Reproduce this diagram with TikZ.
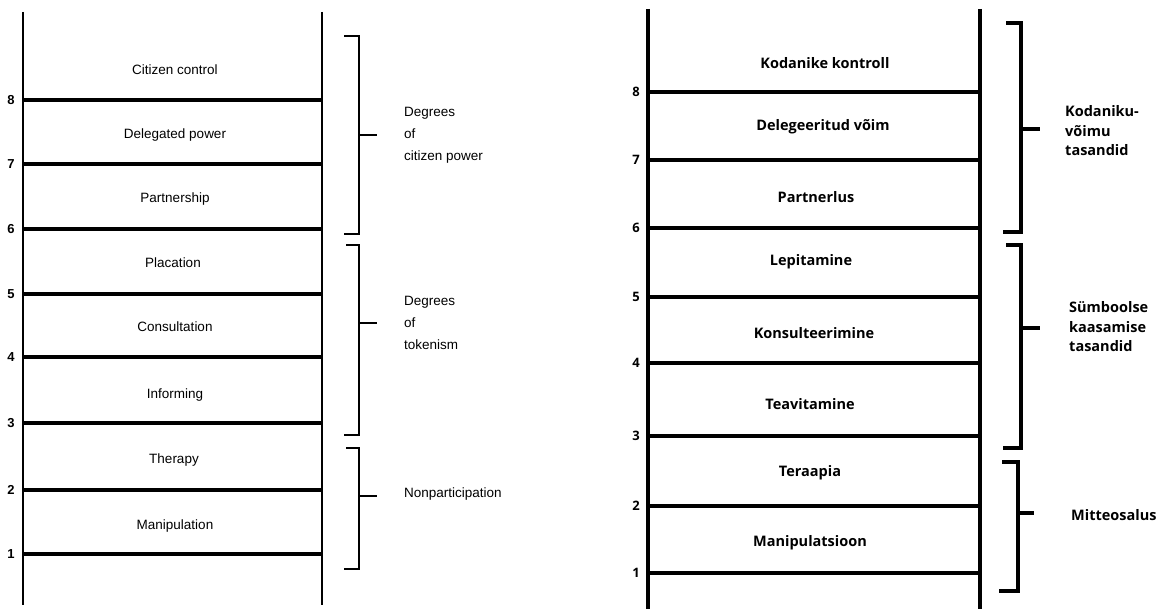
\documentclass[tikz,border=0pt]{standalone}
\usepackage{fontspec}
\setmainfont{Liberation Sans}
\newfontfamily\boldsans{Open Sans}
\begin{document}
\begin{tikzpicture}[x=1pt,y=-1pt,
  rail/.style={line width=2.8pt},
  rung/.style={line width=3.3pt},
  rrail/.style={line width=3.2pt},
  rrung/.style={line width=3.8pt},
  brk/.style={line width=2.8pt, line join=miter},
  rbrk/.style={line width=3.3pt, line join=miter},
  lbl/.style={font=\fontsize{13.5}{16}\selectfont, inner sep=0pt},
  num/.style={font=\bfseries\fontsize{13}{15}\selectfont, inner sep=0pt},
  grp/.style={font=\fontsize{13.5}{22}\selectfont, inner sep=0pt, anchor=west, align=left},
  rlbl/.style={font=\boldsans\bfseries\fontsize{14.5}{17}\selectfont, inner sep=0pt},
  rnum/.style={font=\boldsans\bfseries\fontsize{13}{15}\selectfont, inner sep=0pt},
  rgrp/.style={font=\boldsans\bfseries\fontsize{14.5}{19.5}\selectfont, inner sep=0pt, anchor=west, align=left}]
\useasboundingbox (0,0) rectangle (1159,609);
\fill[white] (0,0) rectangle (1159,609);

% ---------- left ladder ----------
\coordinate (LLt) at (23,12);  \coordinate (LLb) at (23,605);
\coordinate (LRt) at (322,12); \coordinate (LRb) at (322,605);
\draw[rail] (LLt) -- (LLb);
\draw[rail] (LRt) -- (LRb);
\foreach \i/\y in {8/100,7/164,6/229,5/294,4/357,3/423,2/490,1/554}{
  \coordinate (la\i) at (23,\y);
  \coordinate (lb\i) at (322,\y);
  \draw[rung] (la\i) -- (lb\i);
  \node[num] (ln\i) at (11,\y) {\i};
}
\node[lbl] (l8) at (175,70)  {Citizen control};
\node[lbl] (l7) at (175,135) {Delegated power};
\node[lbl] (l6) at (175,199) {Partnership};
\node[lbl] (l5) at (173,263) {Placation};
\node[lbl] (l4) at (175,327) {Consultation};
\node[lbl] (l3) at (175,395) {Informing};
\node[lbl] (l2) at (174,460) {Therapy};
\node[lbl] (l1) at (175,526) {Manipulation};

% left brackets
\draw[brk] (344,36) -- (359,36) -- (359,234) -- (344,234);
\draw[brk] (359,135) -- (377,135);
\draw[brk] (346,245) -- (359,245) -- (359,435) -- (344,435);
\draw[brk] (359,323) -- (377,323);
\draw[brk] (346,448) -- (359,448) -- (359,569) -- (344,569);
\draw[brk] (359,496) -- (377,496);
\node[grp] (g1) at (404,135) {Degrees\\of\\citizen power};
\node[grp] (g2) at (404,323) {Degrees\\of\\tokenism};
\node[grp] (g3) at (404,494) {Nonparticipation};

% ---------- right ladder ----------
\coordinate (RLt) at (648,9);  \coordinate (RLb) at (648,609);
\coordinate (RRt) at (980,9);  \coordinate (RRb) at (980,609);
\draw[rrail] (RLt) -- (RLb);
\draw[rrail] (RRt) -- (RRb);
\foreach \i/\y in {8/92,7/160,6/228,5/297,4/363,3/436,2/506,1/573}{
  \coordinate (ra\i) at (648,\y);
  \coordinate (rb\i) at (980,\y);
  \draw[rrung] (ra\i) -- (rb\i);
  \node[rnum] (rn\i) at (636,\y) {\i};
}
\node[rlbl] (r8) at (825,63)  {Kodanike kontroll};
\node[rlbl] (r7) at (823,127) {Delegeeritud võim};
\node[rlbl] (r6) at (816,197) {Partnerlus};
\node[rlbl] (r5) at (811,262) {Lepitamine};
\node[rlbl] (r4) at (814,333) {Konsulteerimine};
\node[rlbl] (r3) at (810,404) {Teavitamine};
\node[rlbl] (r2) at (810,473) {Teraapia};
\node[rlbl] (r1) at (810,543) {Manipulatsioon};

% right brackets
\draw[rbrk] (1006,23) -- (1021,23) -- (1021,232) -- (1003,232);
\draw[rbrk] (1021,129) -- (1040,129);
\draw[rbrk] (1006,245) -- (1021,245) -- (1021,448) -- (1003,448);
\draw[rbrk] (1021,328) -- (1040,328);
\draw[rbrk] (1002,462) -- (1018,462) -- (1018,591) -- (999,591);
\draw[rbrk] (1018,513) -- (1034,513);
\node[rgrp] (h1) at (1065,131) {Kodaniku-\\võimu\\tasandid};
\node[rgrp] (h2) at (1069,327) {Sümboolse\\kaasamise\\tasandid};
\node[rgrp] (h3) at (1071,515) {Mitteosalus};
\end{tikzpicture}
\end{document}
